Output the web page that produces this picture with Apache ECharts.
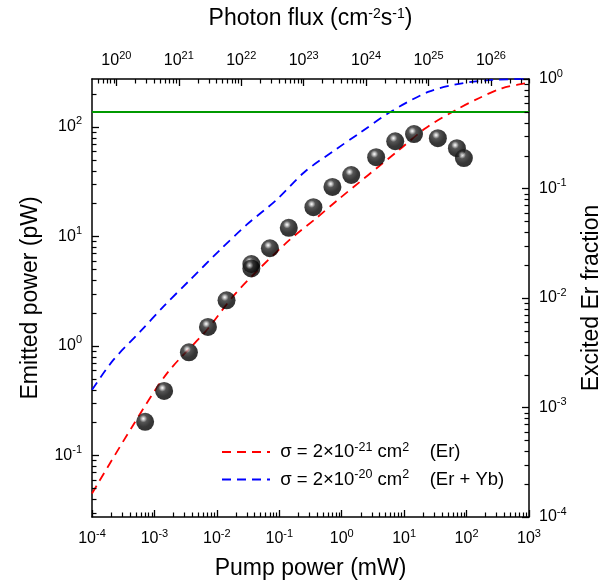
<!DOCTYPE html>
<html><head><meta charset="utf-8">
<script src="https://cdn.jsdelivr.net/npm/echarts@6/dist/echarts.min.js"></script>
<style>html,body{margin:0;padding:0;background:#fff}#c{width:604px;height:586px}</style>
</head><body><div id="c"></div>
<script>
// Measured emission (pump power in mW, emitted power in pW)
const pointPump  = [7.1e-4, 1.43e-3, 3.57e-3, 7.2e-3, 0.0143, 0.0357, 0.0357, 0.0708, 0.142, 0.352, 0.71, 1.42, 3.56, 7.2, 14.4, 34.7, 70, 90.6];
const pointPower = [0.203, 0.388, 0.875, 1.49, 2.61, 5.6, 5.1, 7.8, 12.0, 18.5, 28.3, 36.4, 53, 74, 86, 79, 64, 52];
// Model curves (pump power in mW, excited Er fraction)
const erPump     = [1.0e-4, 4.4e-4, 1.6e-3, 6.9e-3, 0.018, 0.043, 0.146, 0.39, 0.86, 8.3, 22, 67, 157, 368, 870, 1000];
const erFraction = [1.64e-4, 6.68e-4, 2.06e-3, 5.1e-3, 0.0103, 0.0174, 0.0339, 0.0535, 0.0785, 0.225, 0.355, 0.521, 0.667, 0.822, 0.914, 0.93];
const ybPump     = [1.0e-4, 2.2e-4, 5.9e-4, 1.39e-3, 3.7e-3, 0.0112, 0.0298, 0.0895, 0.254, 0.81, 1.91, 6.1, 24.9, 84.7, 255, 1000];
const ybFraction = [1.45e-3, 2.72e-3, 4.92e-3, 8.34e-3, 0.0146, 0.0274, 0.0465, 0.0785, 0.1416, 0.228, 0.319, 0.502, 0.766, 0.914, 0.98, 1.0];
const inversionFraction = 0.5;
// Axis ranges and tick exponents
const pumpRange = [1e-4, 1e3];
const powerRange = [0.0274, 274];
const fractionRange = [1e-4, 1];
const fluxPerMilliwatt = 4.07e23;
const pumpTickExp = [-4, -3, -2, -1, 0, 1, 2, 3];
const fluxTickExp = [20, 21, 22, 23, 24, 25, 26];
const powerTickExp = [-1, 0, 1, 2];
const fractionTickExp = [-4, -3, -2, -1, 0];

const L = Math.log10;
const FONT = 'Liberation Sans, Arial, sans-serif';
function minorTicks(lo, hi) {
  const out = [];
  for (let n = Math.floor(lo) - 1; n <= Math.ceil(hi); n++) {
    for (let k = 2; k <= 9; k++) {
      const v = n + L(k);
      if (v > lo + 1e-9 && v < hi - 1e-9) out.push(v);
    }
  }
  return out;
}
const rich = {
  b: {fontSize: 16, fontFamily: FONT, color: '#000', lineHeight: 22},
  s: {fontSize: 11, fontFamily: FONT, color: '#000', verticalAlign: 'top', lineHeight: 12}
};
const powLabel = v => '{b|10}{s|' + Math.round(v) + '}';
const nameStyle = {fontSize: 23, fontFamily: FONT, color: '#000'};

function majorAxis(pos, range, ticks, name, gap, margin, extra) {
  return Object.assign({
    type: 'value', position: pos, min: range[0], max: range[1], splitLine: {show: false},
    axisLine: {show: true, onZero: false, lineStyle: {color: '#000', width: 1.5}},
    axisTick: {show: true, inside: true, length: 7, customValues: ticks, lineStyle: {color: '#000', width: 1.3}},
    axisLabel: {show: true, margin: margin, customValues: ticks, formatter: powLabel, rich: rich},
    name: name, nameLocation: 'middle', nameGap: gap,
    nameTextStyle: nameStyle
  }, extra || {});
}

const px = [L(pumpRange[0]), L(pumpRange[1])];
const fluxOffset = L(fluxPerMilliwatt);
const fx = [px[0] + fluxOffset, px[1] + fluxOffset];
const py = [L(powerRange[0]), L(powerRange[1])];
const fy = [L(fractionRange[0]), L(fractionRange[1])];

const xAxes = [
  majorAxis('bottom', px, pumpTickExp, 'Pump power (mW)', 40, 11),
  majorAxis('top', fx, fluxTickExp, 'Photon flux (cm{s|-2}s{s|-1})', 49, 7, {
    nameTextStyle: Object.assign({}, nameStyle, {rich: {s: {fontSize: 14, fontFamily: FONT, color: '#000', verticalAlign: 'top', lineHeight: 12}}})
  })
];
const yAxes = [
  majorAxis('left', py, powerTickExp, 'Emitted power (pW)', 50, 10, {nameRotate: 90}),
  majorAxis('right', fy, fractionTickExp, 'Excited Er fraction', 51, 10, {nameRotate: 90})
];

// Minor (log 2..9) ticks: side 0 bottom, 1 top, 2 left, 3 right
const minorLeftBottomTop = []
  .concat(minorTicks(px[0], px[1]).map(v => [v, 0]))
  .concat(minorTicks(fx[0], fx[1]).map(v => [v - fluxOffset, 1]))
  .concat(minorTicks(py[0], py[1]).map(v => [v, 2]));
const minorRight = minorTicks(fy[0], fy[1]).map(v => [v, 3]);
const TICK = 4.5;
function makeTickItem(yr) {
  return function (params, api) {
    const v = api.value(0), side = api.value(1);
    const lb = api.coord([px[0], yr[0]]);
    const rt = api.coord([px[1], yr[1]]);
    const left = lb[0], bottom = lb[1], right = rt[0], top = rt[1];
    let s;
    if (side === 0 || side === 1) {
      const x = Math.round(api.coord([v, yr[0]])[0]) + 0.5;
      const y0 = side === 0 ? bottom : top;
      s = {x1: x, y1: y0, x2: x, y2: side === 0 ? y0 - TICK : y0 + TICK};
    } else {
      const y = Math.round(api.coord([px[0], v])[1]) + 0.5;
      const x0 = side === 2 ? left : right;
      s = {x1: x0, y1: y, x2: side === 2 ? x0 + TICK : x0 - TICK, y2: y};
    }
    return {type: 'line', shape: s, style: {stroke: '#000', lineWidth: 1.2, fill: null}};
  };
}

const sphere = {
  type: 'radial', x: 0.4, y: 0.33, r: 0.66,
  colorStops: [
    {offset: 0, color: '#ffffff'},
    {offset: 0.12, color: '#b8b8b8'},
    {offset: 0.32, color: '#2a2a2a'},
    {offset: 0.7, color: '#050505'},
    {offset: 1, color: '#000'}
  ]
};
const legendRich = {
  t: {fontSize: 18.5, fontFamily: FONT, color: '#000', lineHeight: 22},
  s: {fontSize: 12.5, fontFamily: FONT, color: '#000', verticalAlign: 'top', lineHeight: 12}
};
const legendText = {
  er: '{t| σ = 2×10}{s|-21}{t| cm}{s|2}{t|    (Er)}',
  yb: '{t| σ = 2×10}{s|-20}{t| cm}{s|2}{t|    (Er + Yb)}'
};

const chart = echarts.init(document.getElementById('c'), null, {renderer: 'canvas'});
chart.setOption({
  backgroundColor: '#fff',
  animation: false,
  grid: {left: 92, right: 75, top: 79, bottom: 69, containLabel: false, outerBoundsMode: 'none'},
  xAxis: xAxes,
  yAxis: yAxes,
  legend: {
    left: 216, top: 436, orient: 'vertical', itemWidth: 48, itemHeight: 14, itemGap: 7,
    data: ['er', 'yb'], formatter: n => legendText[n],
    itemStyle: {opacity: 0},
    textStyle: {rich: legendRich}
  },
  series: [
    {
      name: 'er', type: 'line', xAxisIndex: 0, yAxisIndex: 1, symbol: 'none', smooth: 0.3,
      lineStyle: {color: '#ff0000', width: 1.8, type: [9, 6]}, itemStyle: {color: '#ff0000'},
      data: erPump.map((p, i) => [L(p), L(erFraction[i])]),
      markLine: {silent: true, symbol: 'none', label: {show: false},
        lineStyle: {color: '#009900', type: 'solid', width: 2},
        data: [{yAxis: L(inversionFraction)}]},
      z: 3
    },
    {
      name: 'yb', type: 'line', xAxisIndex: 0, yAxisIndex: 1, symbol: 'none', smooth: 0.3,
      lineStyle: {color: '#0000ff', width: 1.8, type: [9, 6]}, itemStyle: {color: '#0000ff'},
      data: ybPump.map((p, i) => [L(p), L(ybFraction[i])]),
      z: 3
    },
    {
      name: 'data', type: 'scatter', xAxisIndex: 0, yAxisIndex: 0, symbol: 'circle', symbolSize: 18,
      itemStyle: {color: sphere},
      data: pointPump.map((p, i) => [L(p), L(pointPower[i])]),
      z: 4
    },
    {
      name: 'minorTicks', type: 'custom', coordinateSystem: 'cartesian2d', xAxisIndex: 0, yAxisIndex: 0,
      silent: true, clip: false, encode: {x: 0, y: 1},
      renderItem: makeTickItem(py), data: minorLeftBottomTop, z: 5
    },
    {
      name: 'minorTicksRight', type: 'custom', coordinateSystem: 'cartesian2d', xAxisIndex: 0, yAxisIndex: 1,
      silent: true, clip: false, encode: {x: 0, y: 1},
      renderItem: makeTickItem(fy), data: minorRight, z: 5
    }
  ]
});
</script></body></html>
